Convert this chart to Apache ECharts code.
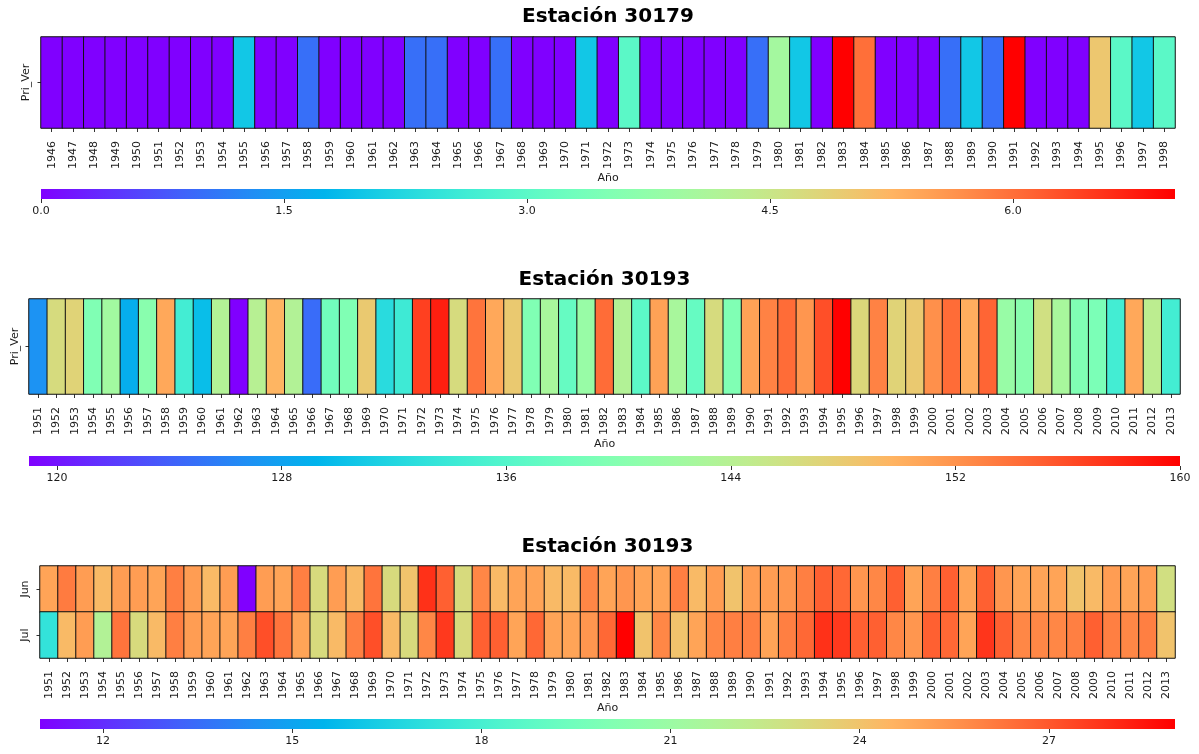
<!DOCTYPE html>
<html>
<head>
<meta charset="utf-8">
<script src="https://cdn.jsdelivr.net/npm/echarts@6/dist/echarts.min.js"></script>
<style>
  html, body { margin: 0; padding: 0; background: #ffffff; }
  #chart { width: 1199px; height: 754px; }
</style>
</head>
<body>
<div id="chart"></div>
<script>
function yearRange(a, b) {
  const out = [];
  for (let y = a; y <= b; y++) out.push(String(y));
  return out;
}

// ---- Estación 30179: Pri_Ver, 1946-1998 ----
const years30179 = yearRange(1946, 1998);
const rows30179 = ['Pri_Ver'];
const priVer30179 = [
  0, 0, 0, 0, 0, 0, 0, 0, 0, 2,   // 1946-1955
  0, 0, 1, 0, 0, 0, 0, 1, 1, 0,   // 1956-1965
  0, 1, 0, 0, 0, 2, 0, 3, 0, 0,   // 1966-1975
  0, 0, 0, 1, 4, 2, 0, 7, 6, 0,   // 1976-1985
  0, 0, 1, 2, 1, 7, 0, 0, 0, 5,   // 1986-1995
  3, 2, 3                         // 1996-1998
];
const ticks30179 = [0, 1.5, 3, 4.5, 6];
const range30179 = [0, 7];

// ---- Estación 30193: Pri_Ver, 1951-2013 ----
const years30193 = yearRange(1951, 2013);
const rows30193a = ['Pri_Ver'];
const priVer30193 = [
  127.0, 146.5, 147.3, 139.5, 142.3, 128.8, 140.3, 150.6, 134.6, 130.0, // 1951-1960
  143.6, 119.0, 144.0, 149.7, 143.6, 124.7, 138.3, 139.5, 148.1, 132.5, // 1961-1970
  134.2, 156.7, 158.4, 146.5, 153.8, 150.6, 148.1, 139.5, 142.8, 137.4, // 1971-1980
  141.5, 154.3, 143.6, 136.6, 151.0, 142.8, 137.4, 146.5, 139.5, 151.0, // 1981-1990
  153.0, 154.3, 151.8, 155.9, 160.0, 146.9, 153.0, 147.3, 148.1, 152.2, // 1991-2000
  154.3, 150.2, 154.7, 141.5, 140.3, 146.0, 142.8, 139.5, 139.1, 134.6, // 2001-2010
  150.6, 144.4, 134.6                                                    // 2011-2013
];
const ticks30193a = [120, 128, 136, 144, 152, 160];
const range30193a = [119.0, 160.0];

// ---- Estación 30193: Jun / Jul, 1951-2013 ----
const rows30193b = ['Jun', 'Jul'];
const jun30193 = [
  25.0, 26.1, 25.2, 24.3, 25.2, 25.2, 25.0, 26.0, 25.2, 24.3, // 1951-1960
  25.2, 11.0, 25.2, 25.0, 26.0, 23.1, 25.2, 24.3, 26.3, 23.1, // 1961-1970
  24.0, 27.9, 26.8, 23.1, 25.8, 24.3, 25.0, 25.0, 24.3, 24.3, // 1971-1980
  25.8, 25.0, 25.4, 25.0, 25.0, 26.0, 24.3, 25.2, 24.0, 25.2, // 1981-1990
  25.2, 25.4, 26.0, 26.8, 26.6, 25.4, 25.8, 26.8, 25.0, 26.0, // 1991-2000
  26.8, 25.0, 26.8, 25.4, 25.0, 25.0, 25.0, 24.0, 24.3, 25.2, // 2001-2010
  25.0, 25.2, 22.9                                             // 2011-2013
];
const jul30193 = [
  17.3, 24.3, 25.2, 21.8, 26.3, 23.1, 24.3, 26.0, 25.2, 25.0, // 1951-1960
  25.0, 26.0, 27.2, 26.3, 25.0, 23.1, 24.3, 26.0, 27.2, 24.3, // 1961-1970
  23.1, 25.8, 27.7, 23.1, 26.8, 26.8, 25.0, 26.6, 25.0, 25.0, // 1971-1980
  25.4, 26.6, 29.0, 24.0, 25.8, 24.0, 25.0, 25.8, 26.0, 26.0, // 1981-1990
  25.0, 26.0, 26.6, 27.9, 27.7, 26.8, 26.8, 25.8, 25.4, 26.8, // 1991-2000
  26.6, 25.0, 27.8, 26.8, 25.8, 25.8, 25.8, 26.0, 26.8, 26.0, // 2001-2010
  25.8, 26.0, 24.0                                             // 2011-2013
];
const ticks30193b = [12, 15, 18, 21, 24, 27];
const range30193b = [11.0, 29.0];

// ---- rainbow colormap ----
function rainbow(t) {
  const r = Math.min(1, Math.abs(2 * t - 0.5));
  const g = Math.sin(Math.PI * t);
  const b = Math.cos(Math.PI * t / 2);
  const h = v => Math.round(Math.max(0, Math.min(1, v)) * 255).toString(16).padStart(2, '0');
  return '#' + h(r) + h(g) + h(b);
}
const N_STOPS = 33;
const rainbowColors = [];
for (let i = 0; i < N_STOPS; i++) rainbowColors.push(rainbow(i / (N_STOPS - 1)));
const rainbowStops = rainbowColors.map((c, i) => ({ offset: i / (N_STOPS - 1), color: c }));

const FONT = 'DejaVu Sans';
const TEXT = '#1a1a1a';

// panel boxes (px)
const panels = [
  { map: { left: 41, top: 37, width: 1134, height: 91 }, bar: { left: 41, top: 189, width: 1134, height: 10 }, titleTop: 7,   yMargin: 9 },
  { map: { left: 29, top: 299, width: 1151, height: 95 }, bar: { left: 29, top: 456, width: 1151, height: 10 }, titleTop: 270, yMargin: 8 },
  { map: { left: 40, top: 566, width: 1135, height: 92 }, bar: { left: 40, top: 719, width: 1135, height: 10 }, titleTop: 537, yMargin: 9 }
];
const titles = ['Estación 30179', 'Estación 30193', 'Estación 30193'];
const yearsList = [years30179, years30193, years30193];
const rowsList = [rows30179, rows30193a, rows30193b];
const ranges = [range30179, range30193a, range30193b];
const tickList = [ticks30179, ticks30193a, ticks30193b];
const tickFmt = [v => v.toFixed(1), v => String(v), v => String(v)];

function cells(valuesByRow) {
  const out = [];
  valuesByRow.forEach((vals, r) => vals.forEach((v, c) => out.push([c, r, v])));
  return out;
}
const cellData = [
  cells([priVer30179]),
  cells([priVer30193]),
  cells([jun30193, jul30193])
];

const grid = [], xAxis = [], yAxis = [], series = [], visualMap = [], title = [];

panels.forEach((p, i) => {
  const mi = i * 2, bi = i * 2 + 1;
  grid.push(Object.assign({}, p.map));
  grid.push(Object.assign({}, p.bar));

  title.push({
    text: titles[i], left: p.map.left + p.map.width / 2, top: p.titleTop, textAlign: 'center', padding: 0,
    textStyle: { fontFamily: FONT, fontWeight: 'bold', fontSize: 20, color: '#000' }
  });

  xAxis.push({
    type: 'category', gridIndex: mi, data: yearsList[i], position: 'bottom',
    name: 'Año', nameLocation: 'middle', nameGap: 45,
    nameTextStyle: { fontFamily: FONT, fontSize: 11, color: TEXT },
    axisLine: { show: false },
    axisTick: { show: true, alignWithLabel: true, length: 4, lineStyle: { color: '#333' } },
    axisLabel: { interval: 0, rotate: 90, margin: 13, fontFamily: FONT, fontSize: 11, color: TEXT },
    splitLine: { show: false }
  });
  yAxis.push({
    type: 'category', gridIndex: mi, data: rowsList[i], inverse: true,
    axisLine: { show: false },
    axisTick: { show: true, alignWithLabel: true, length: 3.5, lineStyle: { color: '#333' } },
    axisLabel: { rotate: 90, margin: p.yMargin, fontFamily: FONT, fontSize: 11, color: TEXT },
    splitLine: { show: false }
  });

  xAxis.push({
    type: 'value', gridIndex: bi, min: ranges[i][0], max: ranges[i][1], position: 'bottom',
    axisLine: { show: false },
    axisTick: { show: true, length: 4, customValues: tickList[i], lineStyle: { color: '#333' } },
    axisLabel: { customValues: tickList[i], margin: 7, fontFamily: FONT, fontSize: 11, color: TEXT, formatter: tickFmt[i] },
    splitLine: { show: false }
  });
  yAxis.push({ type: 'value', gridIndex: bi, min: 0, max: 1, show: false });

  series.push({
    type: 'heatmap', xAxisIndex: mi, yAxisIndex: mi, data: cellData[i],
    itemStyle: { borderColor: '#111', borderWidth: 1 },
    emphasis: { disabled: true }, progressive: 0
  });
  series.push({
    type: 'custom', xAxisIndex: bi, yAxisIndex: bi, data: [[ranges[i][0], ranges[i][1]]],
    encode: { x: [0, 1] }, silent: true,
    renderItem: function (params, api) {
      const a = api.coord([api.value(0), 1]);
      const b = api.coord([api.value(1), 0]);
      return {
        type: 'rect',
        shape: { x: a[0], y: a[1], width: b[0] - a[0], height: b[1] - a[1] },
        style: { fill: new echarts.graphic.LinearGradient(0, 0, 1, 0, rainbowStops) }
      };
    }
  });

  visualMap.push({
    type: 'continuous', show: false, seriesIndex: i * 2, dimension: 2,
    min: ranges[i][0], max: ranges[i][1],
    inRange: { color: rainbowColors }
  });
});

const chart = echarts.init(document.getElementById('chart'), null, { renderer: 'canvas' });
chart.setOption({
  animation: false,
  backgroundColor: '#ffffff',
  textStyle: { fontFamily: FONT },
  title, grid, xAxis, yAxis, visualMap, series
});
</script>
</body>
</html>
